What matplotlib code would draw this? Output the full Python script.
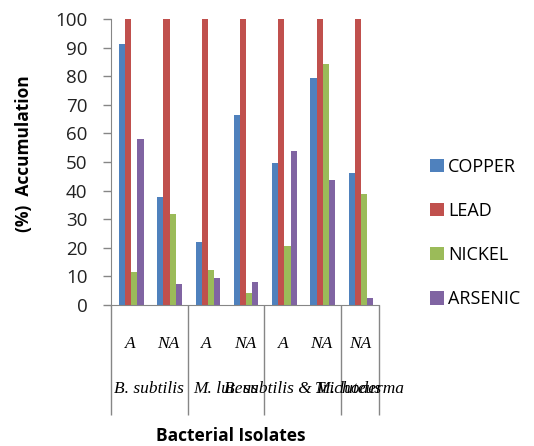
import matplotlib
matplotlib.use("Agg")
import matplotlib.pyplot as plt
import numpy as np

categories = ["A", "NA", "A", "NA", "A", "NA", "NA"]
groups = ["B. subtilis", "M. luteus", "B. subtilis & M. luteus", "Trichoderma"]
group_members = [[0, 1], [2, 3], [4, 5], [6]]
series_names = ["COPPER", "LEAD", "NICKEL", "ARSENIC"]
copper = [91.4, 37.6, 22.0, 66.4, 49.5, 79.2, 46.2]
lead = [100, 100, 100, 100, 100, 100, 100]
nickel = [11.5, 31.8, 12.3, 4.2, 20.7, 84.1, 38.7]
arsenic = [58.2, 7.3, 9.5, 8.0, 54.0, 43.7, 2.3]
colors = ["#4F81BD", "#C0504D", "#9BBB59", "#8064A2"]
yticks = list(range(0, 101, 10))

fig = plt.figure(figsize=(5.34, 4.46), dpi=100)
ax = fig.add_axes([111/534, 1-305/446, 268/534, 286/446])

x = np.arange(len(categories))
w = 0.16
for i, (name, vals) in enumerate(zip(series_names, [copper, lead, nickel, arsenic])):
    ax.bar(x + (i - 1.5) * w + 0.03, vals, width=w, color=colors[i], label=name, zorder=2)

gray = "#868686"
ax.set_xlim(-0.5, len(categories) - 0.5)
ax.set_ylim(0, 100)
ax.set_yticks(yticks)
ax.set_yticklabels([str(t) for t in yticks], fontfamily="Open Sans", fontsize=13.5, color="#222222")
ax.tick_params(axis="y", direction="out", length=6, color=gray, width=1, pad=11)

ax.set_xticks(x)
ax.set_xticklabels(categories, fontfamily="Liberation Serif", fontstyle="italic", fontsize=12.5)
ax.tick_params(axis="x", which="major", length=0, pad=22)

bounds = [-0.5]
for g in group_members:
    bounds.append(g[-1] + 0.5)
ax.set_xticks(bounds, minor=True)
ax.tick_params(axis="x", which="minor", direction="out", length=110/1.389, color=gray, width=1)

for spine in ["top", "right"]:
    ax.spines[spine].set_visible(False)
ax.spines["left"].set_color(gray)
ax.spines["bottom"].set_color(gray)

for gname, members in zip(groups, group_members):
    cx = np.mean([x[m] for m in members])
    ax.text(cx, -0.294, gname, transform=ax.get_xaxis_transform(), ha="center", va="center",
            fontfamily="Liberation Serif", fontstyle="italic", fontsize=12.5)

ax.set_ylabel("(%)  Accumulation", fontfamily="Open Sans", fontweight="bold", fontsize=12.5)
ax.yaxis.set_label_coords(-0.29, 0.531)
fig.text(231/534, 1-436/446, "Bacterial Isolates", ha="center", va="center",
         fontfamily="Open Sans", fontweight="bold", fontsize=12.5)

leg = ax.legend(loc="center left", bbox_to_anchor=(430/534, 1-233/446), bbox_transform=fig.transFigure,
                frameon=False, borderpad=0, borderaxespad=0, handlelength=0.75, handleheight=0.75,
                handletextpad=0.25, labelspacing=1.45, prop={"family": "Open Sans", "size": 13})

fig.savefig("out.png", dpi=100)
